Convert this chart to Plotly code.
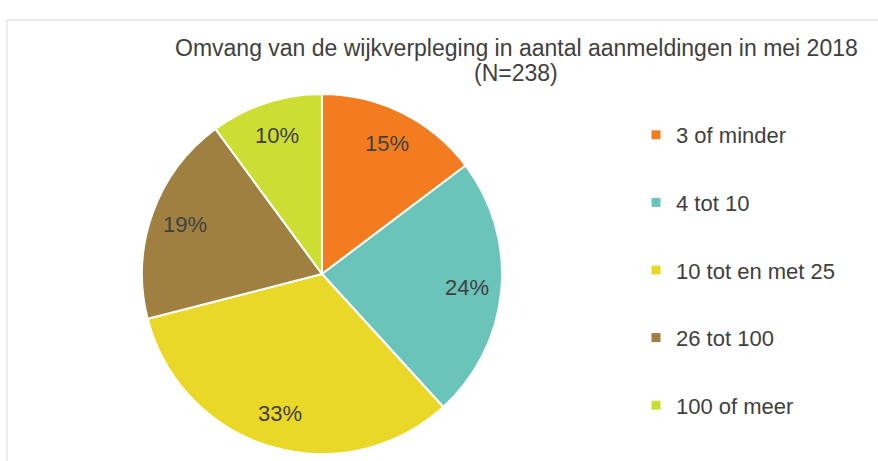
import math
import plotly.graph_objects as go

categories = ["3 of minder", "4 tot 10", "10 tot en met 25", "26 tot 100", "100 of meer"]
counts = [35, 56, 78, 45, 24]
colors = ["#F47C20", "#6BC4BA", "#EAD829", "#A08040", "#CCDD34"]
title_lines = ["Omvang van de wijkverpleging in aantal aanmeldingen in mei 2018", "(N=238)"]

W, H = 878, 461
font_family = "Liberation Sans, Arial, sans-serif"
text_color = "#404040"

# pie geometry (pixels)
cx, cy, R = 322, 274, 180
label_r = 0.81

fig = go.Figure()
fig.add_trace(go.Pie(
    labels=categories,
    values=counts,
    sort=False,
    direction="clockwise",
    rotation=0,
    marker=dict(colors=colors, line=dict(color="white", width=2)),
    textinfo="none",
    domain=dict(x=[(cx - R) / W, (cx + R) / W], y=[1 - (cy + R) / H, 1 - (cy - R) / H]),
    showlegend=False,
    hoverinfo="label+value+percent",
))

# data labels placed along each slice bisector (Excel style)
total = sum(counts)
annotations = []
cum = 0
for v in counts:
    mid = (cum + v / 2) / total
    cum += v
    th = 2 * math.pi * mid
    px = cx + label_r * R * math.sin(th)
    py = cy - label_r * R * math.cos(th)
    annotations.append(dict(
        x=px / W, y=1 - py / H, xref="paper", yref="paper",
        text=f"{round(100 * v / total)}%", showarrow=False,
        xanchor="center", yanchor="middle",
        font=dict(size=22, color=text_color, family=font_family),
    ))

# title lines
for txt, ty in zip(title_lines, [48, 73]):
    annotations.append(dict(
        x=516 / W, y=1 - ty / H, xref="paper", yref="paper", text=txt,
        showarrow=False, xanchor="center", yanchor="middle",
        font=dict(size=23, color=text_color, family=font_family),
    ))

# legend entries (one group each, to reproduce the spacing)
for cat, col in zip(categories, colors):
    fig.add_trace(go.Scatter(
        x=[None], y=[None], mode="markers", name=cat,
        marker=dict(symbol="square", size=9, color=col),
        legendgroup=cat, showlegend=True, hoverinfo="skip",
    ))

fig.update_layout(
    width=W, height=H,
    margin=dict(l=0, r=0, t=0, b=0),
    paper_bgcolor="white", plot_bgcolor="white",
    font=dict(family=font_family, color=text_color, size=22),
    legend=dict(x=636 / W, xanchor="left", y=1 - 114 / H, yanchor="top",
                font=dict(size=22, color=text_color, family=font_family),
                tracegroupgap=36, itemclick=False, itemdoubleclick=False,
                bgcolor="rgba(0,0,0,0)"),
    xaxis=dict(visible=False), yaxis=dict(visible=False),
    annotations=annotations,
    shapes=[dict(type="rect", xref="paper", yref="paper",
                 x0=7 / W, x1=1.05, y0=-0.05, y1=1 - 20 / H,
                 line=dict(color="#D9D9D9", width=1), fillcolor="rgba(0,0,0,0)", layer="below")],
)

fig.write_html("out.html", config={"displayModeBar": False},
               post_script="document.body.style.margin='0px';")
